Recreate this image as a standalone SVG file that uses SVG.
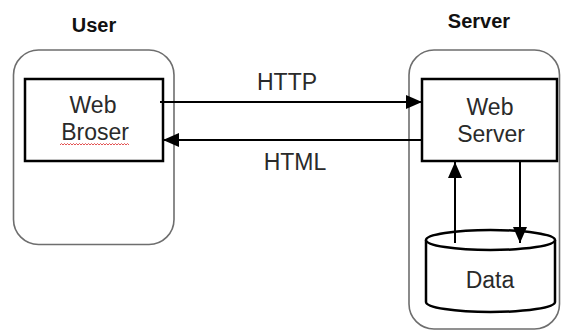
<svg xmlns="http://www.w3.org/2000/svg" width="561" height="331" viewBox="0 0 561 331">
  <defs>
    <marker id="arrow" markerUnits="userSpaceOnUse" markerWidth="16" markerHeight="14" refX="16" refY="7" orient="auto">
      <path d="M0,0 L16,7 L0,14 z" fill="#000"/>
    </marker>
    <style>
      .zone { fill: #fff; stroke: #6e6e6e; stroke-width: 1.6; }
      .box { fill: #fff; stroke: #000; stroke-width: 2.5; }
      .title { font-family: "Liberation Sans", Arial, sans-serif; font-weight: bold; font-size: 20px; fill: #111; text-anchor: middle; }
      .label { font-family: "Liberation Sans", Arial, sans-serif; font-size: 23px; fill: #2a2a2a; text-anchor: middle; }
      .link { fill: none; stroke: #000; stroke-width: 2; }
    </style>
  </defs>

  <rect width="561" height="331" fill="#fff"/>

  <!-- client side -->
  <g id="user">
    <rect class="zone" x="13.5" y="50" width="160.5" height="194.5" rx="25" ry="25"/>
    <text class="title" x="94" y="32">User</text>
  </g>

  <!-- server side -->
  <g id="server">
    <rect class="zone" x="409" y="50" width="150.5" height="279" rx="25" ry="25"/>
    <text class="title" x="479" y="28">Server</text>
  </g>

  <g id="web-broser">
    <rect class="box" x="25" y="79" width="138" height="82"/>
    <text class="label" x="93" y="113">Web</text>
    <text class="label" x="95" y="140">Broser</text>
    <path d="M60,145 l1.5,-1.5 l1.5,1.5 l1.5,-1.5 l1.5,1.5 l1.5,-1.5 l1.5,1.5 l1.5,-1.5 l1.5,1.5 l1.5,-1.5 l1.5,1.5 l1.5,-1.5 l1.5,1.5 l1.5,-1.5 l1.5,1.5 l1.5,-1.5 l1.5,1.5 l1.5,-1.5 l1.5,1.5 l1.5,-1.5 l1.5,1.5 l1.5,-1.5 l1.5,1.5 l1.5,-1.5 l1.5,1.5 l1.5,-1.5 l1.5,1.5 l1.5,-1.5 l1.5,1.5 l1.5,-1.5 l1.5,1.5 l1.5,-1.5 l1.5,1.5 l1.5,-1.5 l1.5,1.5 l1.5,-1.5 l1.5,1.5 l1.5,-1.5 l1.5,1.5 l1.5,-1.5 l1.5,1.5 l1.5,-1.5 l1.5,1.5 l1.5,-1.5 l1.5,1.5 l1.5,-1.5 l1.5,1.5" fill="none" stroke="#e04040" stroke-width="0.9"/>
  </g>

  <g id="web-server">
    <rect class="box" x="422" y="79" width="135" height="82"/>
    <text class="label" x="490" y="115">Web</text>
    <text class="label" x="491" y="142">Server</text>
  </g>

  <g id="data">
    <path class="box" d="M426,240 L426,302 A64.5,10 0 0 0 555,302 L555,240"/>
    <ellipse class="box" cx="490.5" cy="240" rx="64.5" ry="10"/>
    <text class="label" x="490" y="288">Data</text>
  </g>

  <!-- connectors -->
  <g id="connectors">
    <line class="link" x1="160" y1="102" x2="422" y2="102" marker-end="url(#arrow)"/>
    <text class="label" x="287" y="90">HTTP</text>
    <line class="link" x1="422" y1="140" x2="163" y2="140" marker-end="url(#arrow)"/>
    <text class="label" x="295" y="170">HTML</text>
    <line class="link" x1="455" y1="243" x2="455" y2="162" marker-end="url(#arrow)"/>
    <line class="link" x1="520" y1="162" x2="520" y2="243" marker-end="url(#arrow)"/>
  </g>
</svg>
